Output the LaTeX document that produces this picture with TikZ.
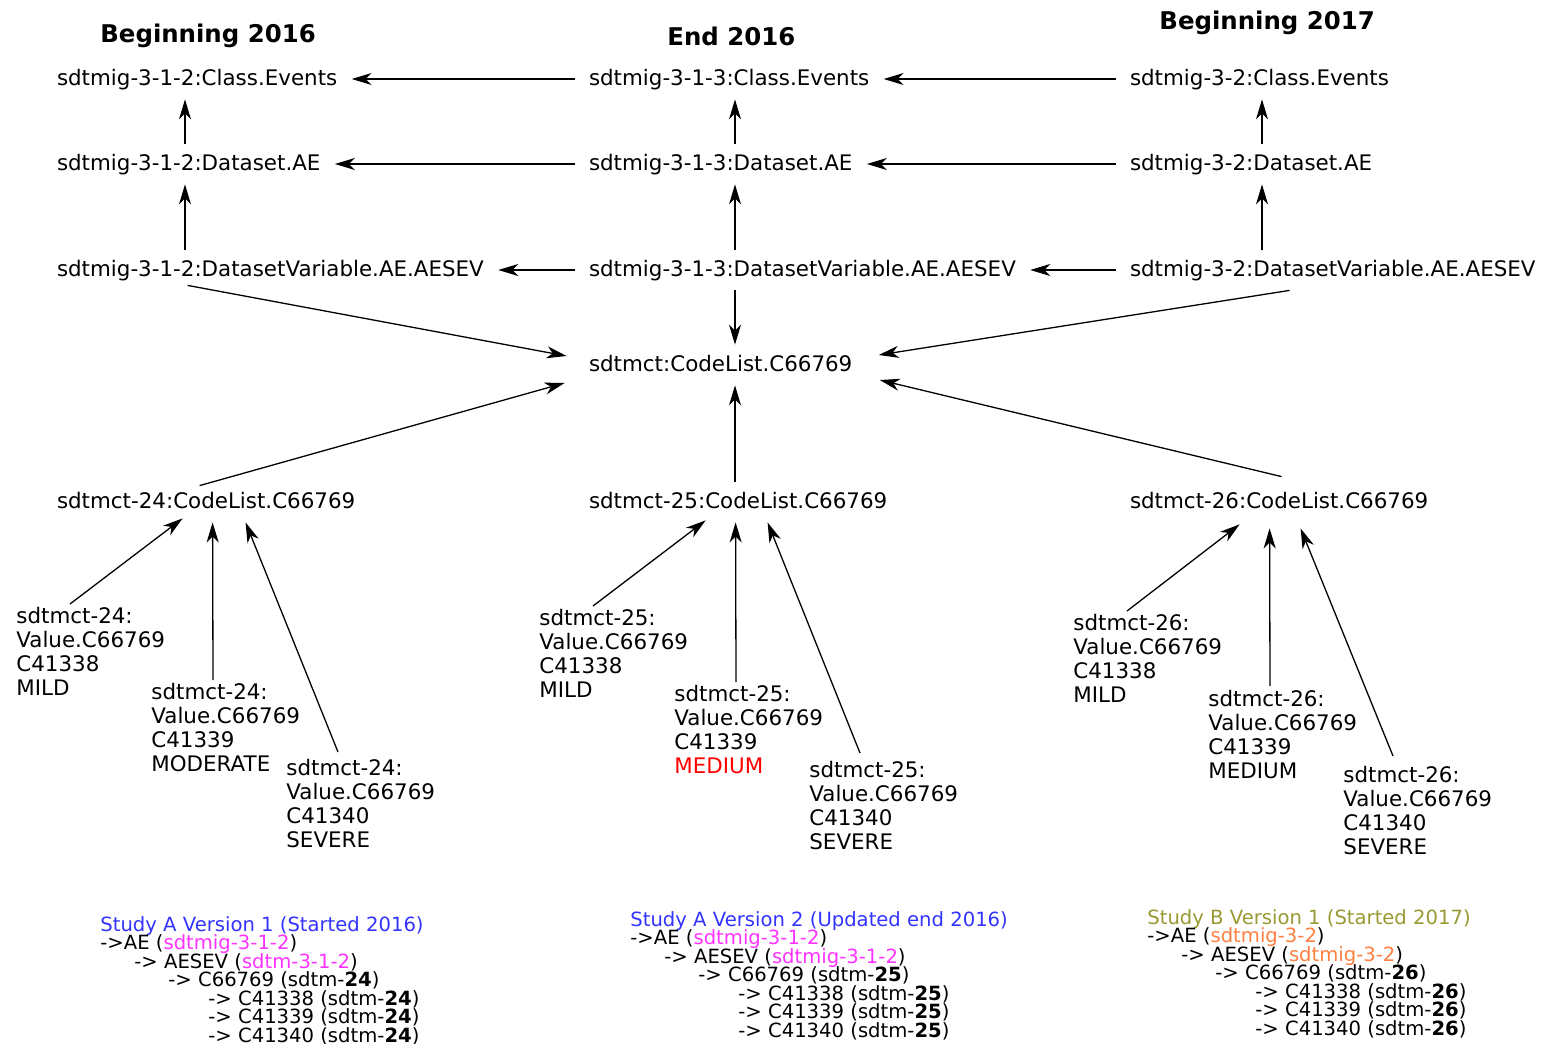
\documentclass[tikz,border=0pt]{standalone}
\usepackage{fontspec}
\setmainfont{DejaVu Sans}
\usetikzlibrary{calc,arrows.meta}
\definecolor{studyblue}{RGB}{51,51,255}
\definecolor{igmagenta}{RGB}{255,51,255}
\definecolor{studyolive}{RGB}{153,153,51}
\definecolor{igorange}{RGB}{255,128,64}
\definecolor{newred}{RGB}{255,0,0}
\lineskiplimit=-10pt
\tikzset{
	term/.style={anchor=text, inner xsep=7pt, inner ysep=5pt, text height=8pt, text depth=2pt, font={\fontsize{10.7}{12}\selectfont}},
	title/.style={anchor=base west, inner sep=0pt, font={\fontsize{12.2}{14}\selectfont\bfseries}},
	val/.style={anchor=north west, inner sep=0pt, align=left, font={\fontsize{10.7}{12}\selectfont}},
	study/.style={anchor=north west, inner sep=0pt, align=left, font={\fontsize{9.8}{9.25}\selectfont}},
	link/.style={-{Stealth[length=10pt,width=6pt,inset=3pt]}, line width=0.65pt}
}

\begin{document}
\begin{tikzpicture}[x=0.5pt, y=-0.5pt]
			%%%%% START %%%%%
			
			\useasboundingbox (0, 0) rectangle (1543, 1044);
			
			\node[title] (head16a) at (100, 42) {Beginning 2016};
			\node[title] (head16b) at (667, 46) {End 2016};
			\node[title] (head17a) at (1159, 29) {Beginning 2017};
			
			\coordinate (colA) at (185, 0);
			\coordinate (colB) at (735, 0);
			\coordinate (colC) at (1262, 0);
			
			\node[term] (a1) at (57, 85) {sdtmig-3-1-2:Class.Events};
			\node[term] (a2) at (57, 170) {sdtmig-3-1-2:Dataset.AE};
			\node[term] (a3) at (57, 276) {sdtmig-3-1-2:DatasetVariable.AE.AESEV};
			
			\node[term] (b1) at (589, 85) {sdtmig-3-1-3:Class.Events};
			\node[term] (b2) at (589, 170) {sdtmig-3-1-3:Dataset.AE};
			\node[term] (b3) at (589, 276) {sdtmig-3-1-3:DatasetVariable.AE.AESEV};
			
			\node[term] (c1) at (1130, 85) {sdtmig-3-2:Class.Events};
			\node[term] (c2) at (1130, 170) {sdtmig-3-2:Dataset.AE};
			\node[term] (c3) at (1130, 276) {sdtmig-3-2:DatasetVariable.AE.AESEV};
			
			\node[term] (cl) at (589, 371) {sdtmct:CodeList.C66769};
			
			\node[term] (cl24) at (57, 508) {sdtmct-24:CodeList.C66769};
			\node[term] (cl25) at (589, 508) {sdtmct-25:CodeList.C66769};
			\node[term] (cl26) at (1130, 508) {sdtmct-26:CodeList.C66769};
			
			\draw[link] (b1.west) -- (a1.east);
			\draw[link] (c1.west) -- (b1.east);
			\draw[link] (b2.west) -- (a2.east);
			\draw[link] (c2.west) -- (b2.east);
			\draw[link] (b3.west) -- (a3.east);
			\draw[link] (c3.west) -- (b3.east);
			
			\draw[link] (a2.north -| colA) -- (a1.south -| colA);
			\draw[link] (a3.north -| colA) -- (a2.south -| colA);
			\draw[link] (b2.north -| colB) -- (b1.south -| colB);
			\draw[link] (b3.north -| colB) -- (b2.south -| colB);
			\draw[link] (c2.north -| colC) -- (c1.south -| colC);
			\draw[link] (c3.north -| colC) -- (c2.south -| colC);
			
			\draw[link] (b3.south -| colB) -- (cl.north -| colB);
			\draw[link] ($(a3.south west)+(145,-5)$) -- ($(cl.west)+(-8,-9)$);
			\draw[link] ($(c3.south west)+(174,0)$) -- ($(cl.east)+(12,-10)$);
			\draw[link] ($(cl24.north west)+(157,4)$) -- ($(cl.west)+(-10,18)$);
			\draw[link] (cl25.north -| colB) -- (cl.south -| colB);
			\draw[link] ($(cl26.north west)+(166,-5)$) -- ($(cl.east)+(13,15)$);
			
			\node[val] (v24a) at (16, 607) {sdtmct-24:\\Value.C66769\\C41338\\MILD};
			\node[val] (v24b) at (151, 683) {sdtmct-24:\\Value.C66769\\C41339\\MODERATE};
			\node[val] (v24c) at (286, 759) {sdtmct-24:\\Value.C66769\\C41340\\SEVERE};
			
			\node[val] (v25a) at (539, 609) {sdtmct-25:\\Value.C66769\\C41338\\MILD};
			\node[val] (v25b) at (674, 685) {sdtmct-25:\\Value.C66769\\C41339\\\textcolor{newred}{MEDIUM}};
			\node[val] (v25c) at (809, 761) {sdtmct-25:\\Value.C66769\\C41340\\SEVERE};
			
			\node[val] (v26a) at (1073, 614) {sdtmct-26:\\Value.C66769\\C41338\\MILD};
			\node[val] (v26b) at (1208, 690) {sdtmct-26:\\Value.C66769\\C41339\\MEDIUM};
			\node[val] (v26c) at (1343, 766) {sdtmct-26:\\Value.C66769\\C41340\\SEVERE};
			
			\draw[link] ($(v24a.north west)+(54,-3)$) -- ($(cl24.south west)+(140,-4)$);
			\draw[link] ($(v24b.north west)+(62,-3)$) -- ($(cl24.south west)+(170,0)$);
			\draw[link] ($(v24c.north west)+(52,-7)$) -- ($(cl24.south west)+(203,0)$);
			
			\draw[link] ($(v25a.north west)+(54,-3)$) -- ($(cl25.south west)+(131,-2)$);
			\draw[link] ($(v25b.north west)+(62,-3)$) -- ($(cl25.south west)+(161,0)$);
			\draw[link] ($(v25c.north west)+(51,-8)$) -- ($(cl25.south west)+(193,0)$);
			
			\draw[link] ($(v26a.north west)+(54,-3)$) -- ($(cl26.south west)+(124,2)$);
			\draw[link] ($(v26b.north west)+(62,-4)$) -- ($(cl26.south west)+(154,6)$);
			\draw[link] ($(v26c.north west)+(50,-10)$) -- ($(cl26.south west)+(185,6)$);
			
			\node[study] (studyA1) at (100, 916) {\textcolor{studyblue}{Study A Version 1 (Started 2016)}\\
				->AE (\textcolor{igmagenta}{sdtmig-3-1-2})\\
				\hspace*{17pt}-> AESEV (\textcolor{igmagenta}{sdtm-3-1-2})\\
				\hspace*{34pt}-> C66769 (sdtm-\textbf{24})\\
				\hspace*{54pt}-> C41338 (sdtm-\textbf{24})\\
				\hspace*{54pt}-> C41339 (sdtm-\textbf{24})\\
				\hspace*{54pt}-> C41340 (sdtm-\textbf{24})};
			
			\node[study] (studyA2) at (630, 911) {\textcolor{studyblue}{Study A Version 2 (Updated end 2016)}\\
				->AE (\textcolor{igmagenta}{sdtmig-3-1-2})\\
				\hspace*{17pt}-> AESEV (\textcolor{igmagenta}{sdtmig-3-1-2})\\
				\hspace*{34pt}-> C66769 (sdtm-\textbf{25})\\
				\hspace*{54pt}-> C41338 (sdtm-\textbf{25})\\
				\hspace*{54pt}-> C41339 (sdtm-\textbf{25})\\
				\hspace*{54pt}-> C41340 (sdtm-\textbf{25})};
			
			\node[study] (studyB1) at (1147, 909) {\textcolor{studyolive}{Study B Version 1 (Started 2017)}\\
				->AE (\textcolor{igorange}{sdtmig-3-2})\\
				\hspace*{17pt}-> AESEV (\textcolor{igorange}{sdtmig-3-2})\\
				\hspace*{34pt}-> C66769 (sdtm-\textbf{26})\\
				\hspace*{54pt}-> C41338 (sdtm-\textbf{26})\\
				\hspace*{54pt}-> C41339 (sdtm-\textbf{26})\\
				\hspace*{54pt}-> C41340 (sdtm-\textbf{26})};
			
			%%%%% END %%%%%
\end{tikzpicture}
\end{document}
